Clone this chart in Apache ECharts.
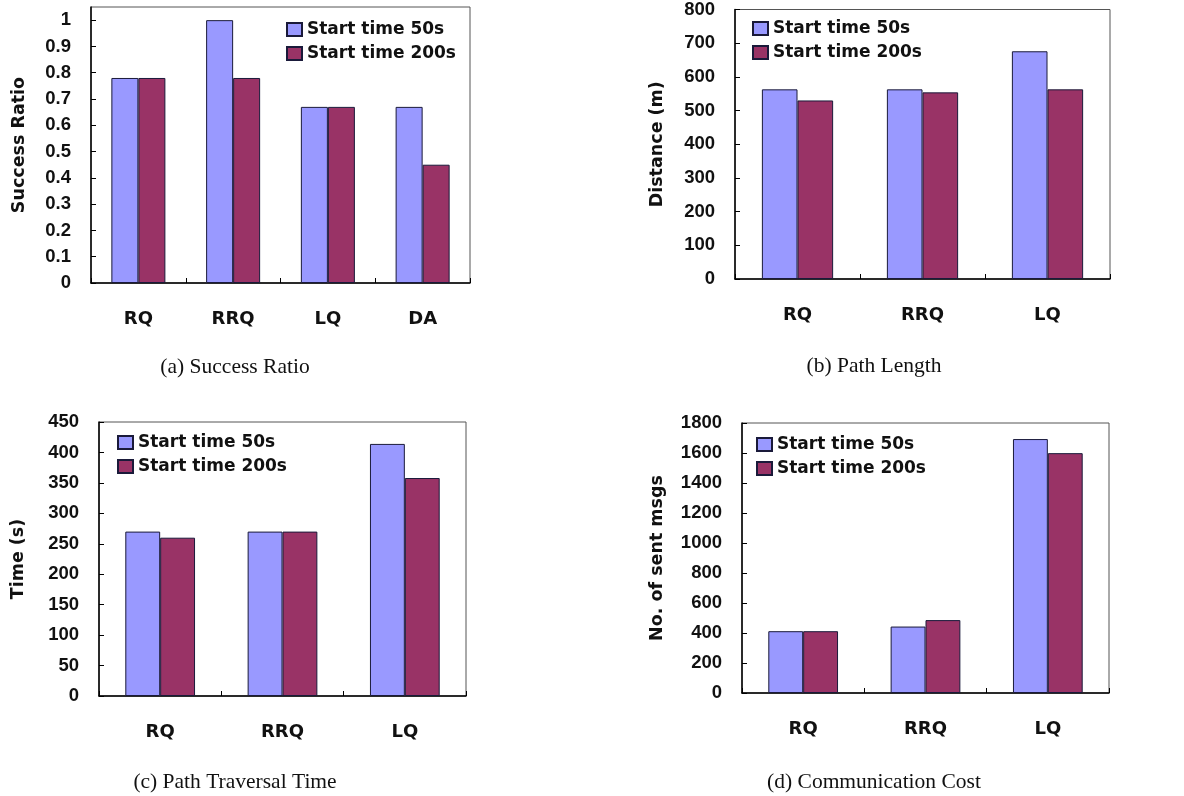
<!DOCTYPE html>
<html>
<head>
<meta charset="utf-8">
<script src="https://cdn.jsdelivr.net/npm/echarts@6/dist/echarts.min.js"></script>
<style>
html,body{margin:0;padding:0;background:#fff;}
#chart{width:1184px;height:796px;}
</style>
</head>
<body>
<div id="chart"></div>
<script>
// ---- data ----
var categoriesA = ['RQ', 'RRQ', 'LQ', 'DA'];
var categoriesB = ['RQ', 'RRQ', 'LQ'];
var seriesNames = ['Start time 50s', 'Start time 200s'];

var successStart50 = [0.78, 1.0, 0.67, 0.67];
var successStart200 = [0.78, 0.78, 0.67, 0.45];

var distStart50 = [563, 563, 676];
var distStart200 = [530, 554, 563];

var timeStart50 = [270, 270, 414];
var timeStart200 = [260, 270, 358];

var msgsStart50 = [412, 443, 1693];
var msgsStart200 = [412, 486, 1599];

var captions = ['(a) Success Ratio', '(b) Path Length', '(c) Path Traversal Time', '(d) Communication Cost'];
var yNames = ['Success Ratio', 'Distance (m)', 'Time (s)', 'No. of sent msgs'];

// ---- layout / style ----
var BLUE = '#9999FF', RED = '#993366';
var FONT = 'Liberation Sans, Arial, sans-serif';
var WIDE = '"DejaVu Sans", Verdana, sans-serif';
var grids = [
  {left: 91, top: 7, width: 379, height: 276},
  {left: 735, top: 7, width: 375, height: 272},
  {left: 99, top: 422, width: 367, height: 274},
  {left: 742, top: 423, width: 367, height: 270}
];
var nameGaps = [63, 69, 72, 76];
var yMax = [1.05, 800, 450, 1800];
var yInterval = [0.1, 100, 50, 200];
var legendPos = [[286, 21], [752, 20], [117, 434], [756, 436]];
var captionCenter = [[235, 367], [874, 366], [235, 782], [874, 782]];
var catSets = [categoriesA, categoriesB, categoriesB, categoriesB];
var dataSets = [
  [successStart50, successStart200],
  [distStart50, distStart200],
  [timeStart50, timeStart200],
  [msgsStart50, msgsStart200]
];

var option = {
  backgroundColor: '#fff',
  animation: false,
  grid: [], xAxis: [], yAxis: [], series: [], legend: [], graphic: []
};

for (var i = 0; i < 4; i++) {
  var g = grids[i];
  option.grid.push({
    left: g.left, top: g.top, width: g.width, height: g.height,
    show: true, borderColor: '#555', borderWidth: 1, backgroundColor: '#fff'
  });
  option.xAxis.push({
    type: 'category', gridIndex: i, data: catSets[i], boundaryGap: true,
    axisLine: {lineStyle: {color: '#000', width: 1.5}},
    axisTick: {show: true, inside: true, length: 5, lineStyle: {color: '#000'}},
    axisLabel: {color: '#111', fontFamily: WIDE, fontWeight: 'bold', fontSize: 18, margin: 27},
    splitLine: {show: false}
  });
  (function (idx) {
    option.yAxis.push({
      type: 'value', gridIndex: idx, min: 0, max: yMax[idx], interval: yInterval[idx],
      name: yNames[idx], nameLocation: 'middle', nameGap: nameGaps[idx],
      nameTextStyle: {color: '#111', fontFamily: WIDE, fontWeight: 'bold', fontSize: 17.5},
      axisLine: {show: true, lineStyle: {color: '#000', width: 1.5}},
      axisTick: {show: true, inside: true, length: 5, lineStyle: {color: '#000'}},
      axisLabel: {
        color: '#111', fontFamily: FONT, fontWeight: 'bold', fontSize: 18.5, margin: 20,
        showMaxLabel: idx === 0 ? false : true,
        formatter: function (v) {
          if (idx === 0) {
            if (v === 0) return '0';
            if (Math.abs(v - 1) < 1e-9) return '1';
            return v.toFixed(1);
          }
          return String(v);
        }
      },
      splitLine: {show: false}
    });
  })(i);
  for (var s = 0; s < 2; s++) {
    option.series.push({
      type: 'bar', name: seriesNames[s], xAxisIndex: i, yAxisIndex: i,
      data: dataSets[i][s],
      barGap: '0%', barCategoryGap: '43%',
      itemStyle: {color: s === 0 ? BLUE : RED, borderColor: '#1a1a3a', borderWidth: 1}
    });
  }
  option.legend.push({
    left: legendPos[i][0], top: legendPos[i][1], orient: 'vertical',
    itemWidth: 15, itemHeight: 13, itemGap: 7, padding: 0,
    icon: 'rect', data: seriesNames,
    textStyle: {color: '#111', fontFamily: WIDE, fontWeight: 'bold', fontSize: 17}
  });
  option.graphic.push({
    type: 'text', x: captionCenter[i][0], y: captionCenter[i][1],
    style: {
      text: captions[i], font: '21.5px "Liberation Serif", "Times New Roman", serif', fill: '#111',
      align: 'center', verticalAlign: 'middle', textAlign: 'center', textVerticalAlign: 'middle'
    }
  });
}

var chart = echarts.init(document.getElementById('chart'), null, {renderer: 'canvas'});
chart.setOption(option);
</script>
</body>
</html>
